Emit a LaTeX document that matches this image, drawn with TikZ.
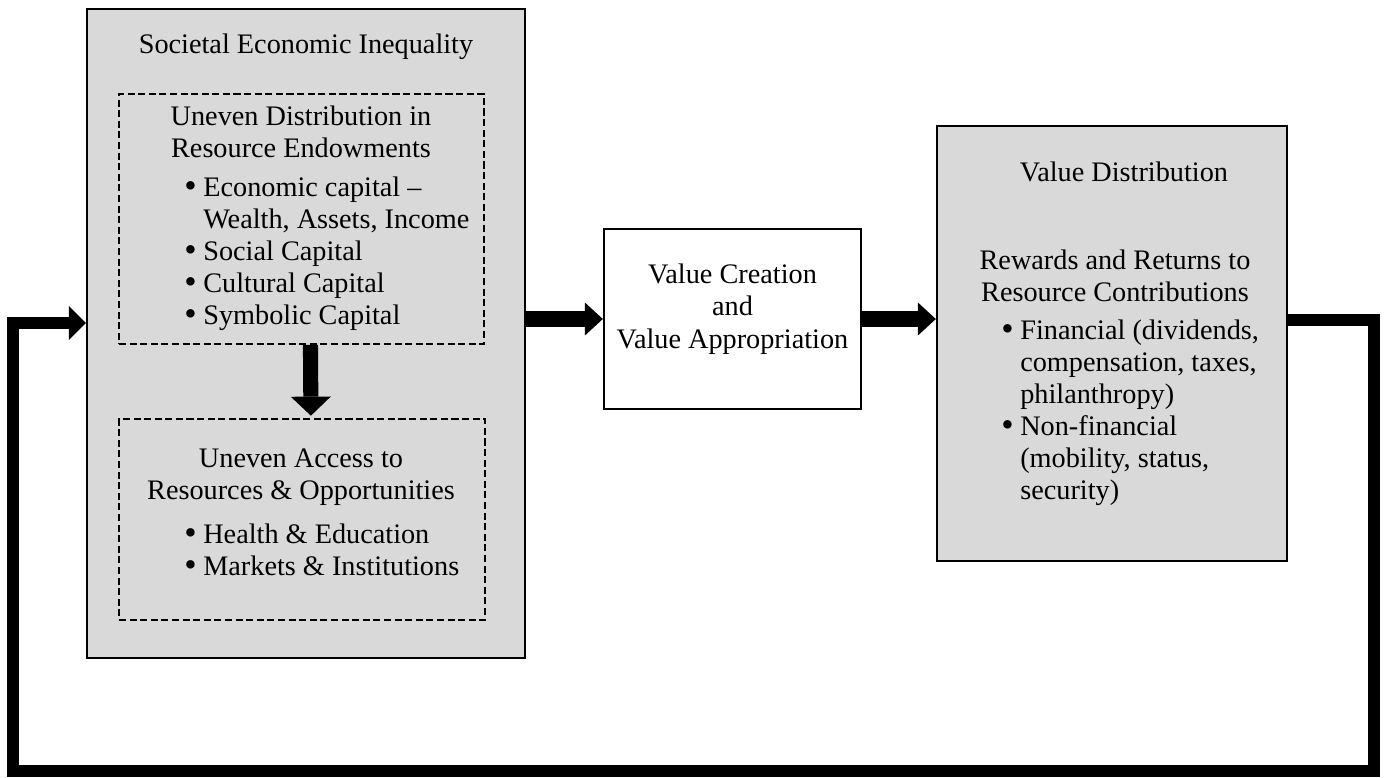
\documentclass[tikz,border=0pt]{standalone}
\usepackage{fontspec}
\setmainfont{Liberation Serif}
\usetikzlibrary{arrows.meta,fit}
\definecolor{box_gray}{RGB}{217,217,217}
\newcommand{\bul}{\makebox[8pt][l]{\raisebox{-0.5pt}{\fontsize{15}{15}\selectfont\textbullet}}}
\newcommand{\ind}{\hspace*{8pt}}

\begin{document}
\begin{tikzpicture}[x=0.4246pt,y=-0.4246pt,line join=miter]
    \tikzstyle{graybox}=[draw=black, line width=1pt, fill=box_gray, inner sep=0pt]
    \tikzstyle{dashbox}=[draw=black, line width=0.8pt, dash pattern=on 3pt off 1.5pt, inner sep=0pt]
    \tikzstyle{whitebox}=[draw=black, line width=1pt, fill=white, inner sep=0pt, align=center, font=\fontsize{12}{13.6}\selectfont]
    \tikzstyle{txt}=[align=center, inner sep=0pt, font=\fontsize{12}{13.6}\selectfont]
    \tikzstyle{bullets}=[align=left, anchor=west, inner sep=0pt, font=\fontsize{12}{13.6}\selectfont]
    \tikzstyle{flow}=[line width=7.2pt, -{Triangle[length=7.6pt,width=14pt,line width=0pt]}]
    \tikzstyle{drop}=[line width=6.4pt, -{Triangle[length=8.1pt,width=17pt,line width=0pt]}]
    \tikzstyle{feedback}=[line width=4.7pt, -{Triangle[length=7.2pt,width=14.4pt,line width=0pt]}]

    \useasboundingbox (0,0) rectangle (1386,777);

    % boxes
    \node[graybox, fit={(87,9) (525,658)}] (ineq) {};
    \node[dashbox, fit={(119,94) (484,344)}] (endow) {};
    \node[dashbox, fit={(119,419) (485,620)}] (access) {};
    \node[whitebox, fit={(604,229) (861,409)}] (create) {Value Creation\\and\\Value Appropriation};
    \node[graybox, fit={(937,126) (1287,561)}] (distr) {};

    % texts
    \node[txt] (ineqt) at (306,47) {Societal Economic Inequality};
    \node[txt] (endowt) at (301,131.5) {Uneven Distribution in\\Resource Endowments};
    \node[bullets] (endowl) at (184,253.5) {\bul Economic capital --\\\ind Wealth, Assets, Income\\\bul Social Capital\\\bul Cultural Capital\\\bul Symbolic Capital};
    \node[txt] (accesst) at (301,477) {Uneven Access to\\Resources \& Opportunities};
    \node[bullets] (accessl) at (184,550.5) {\bul Health \& Education\\\bul Markets \& Institutions};
    \node[txt] (distrt) at (1124,172) {Value Distribution};
    \node[txt] (rewardt) at (1115,276) {Rewards and Returns to\\Resource Contributions};
    \node[bullets] (rewardl) at (1001,412.5) {\bul Financial (dividends,\\\ind compensation, taxes,\\\ind philanthropy)\\\bul Non-financial\\\ind (mobility, status,\\\ind security)};

    \coordinate (fbtop) at (1374,320);
    \coordinate (fbbot) at (13,771);
    \coordinate (fbin) at (13,323);

    \path
     (ineq.east |- create.west) edge[flow] (create.west)
     (create.east) edge[flow] (distr.west |- create.east)
     ([xshift=3.8pt]endow.south) edge[drop] ([xshift=3.8pt,yshift=1pt]access.north)
     ;
    \draw[feedback] (distr.east |- fbtop) -- (fbtop) |- (fbbot) -- (fbin) -- (ineq.west |- fbin);
\end{tikzpicture}
\end{document}
